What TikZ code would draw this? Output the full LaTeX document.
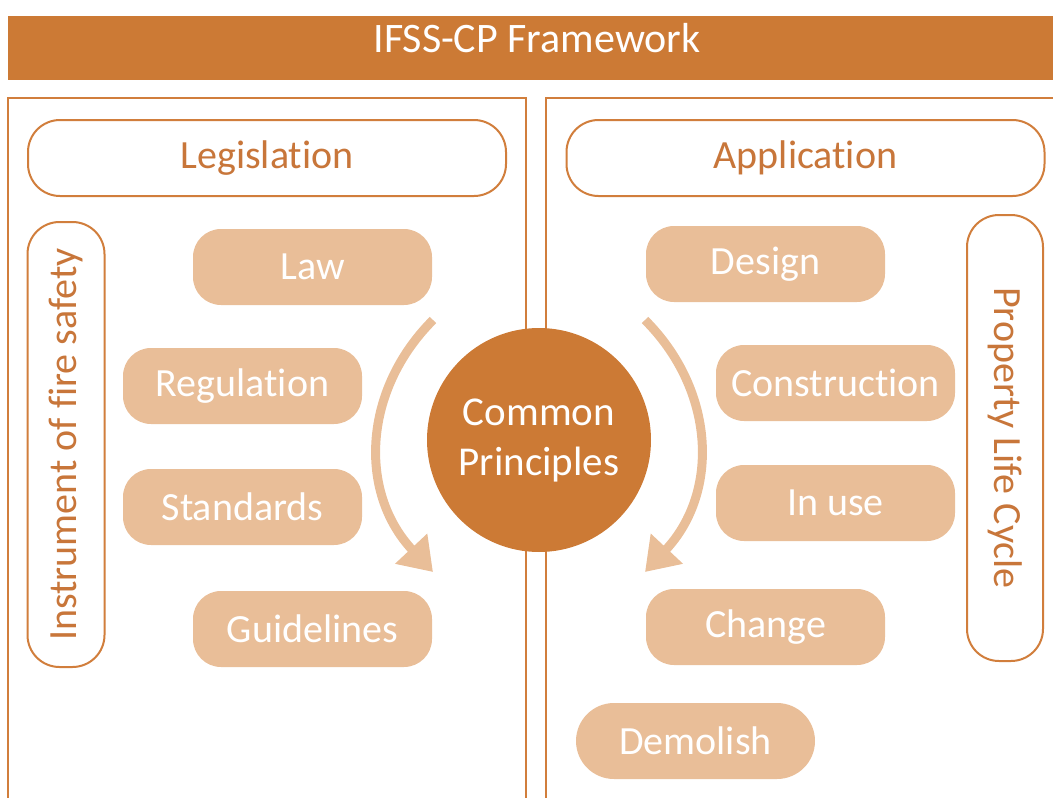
\documentclass[tikz,border=0pt]{standalone}
\usepackage{fontspec}
\setmainfont{Carlito}[Ligatures=NoCommon]
\usetikzlibrary{arrows.meta}
\definecolor{dark}{HTML}{CC7A35}
\definecolor{light}{HTML}{E9BE98}
\definecolor{edge}{HTML}{D17E3C}
\definecolor{txt}{HTML}{C8763A}
\tikzset{
  panel/.style={draw=edge, line width=2pt},
  hdr/.style={draw=edge, line width=2pt, fill=white, rounded corners=32pt, text=txt,
    minimum width=478pt, minimum height=76pt, font=\fontsize{40}{44}\selectfont},
  vbox/.style={draw=edge, line width=2pt, fill=white, rounded corners=32pt, text=txt,
    minimum width=445pt, minimum height=77pt, font=\fontsize{40}{44}\selectfont},
  pill/.style={fill=light, rounded corners=28pt, text=white, inner sep=0pt,
    minimum width=239pt, minimum height=76pt, font=\fontsize{40}{44}\selectfont},
  flow/.style={draw=light, line width=9pt, -{Triangle[length=32pt,width=42pt]}}
}
\begin{document}
\begin{tikzpicture}[x=1pt,y=-1pt]
\useasboundingbox (0,0) rectangle (1053,798);
\clip (0,0) rectangle (1053,798);
% top bar
\fill[dark] (8,16) rectangle (1070,80);
\node[text=white, font=\fontsize{42}{46}\selectfont] (title) at (537,38) {IFSS-CP Framework};
% panels
\draw[panel] (8,98) rectangle (526,830);
\draw[panel] (546,98) rectangle (1080,830);
% headers
\node[hdr] (leg) at (267,158) {Legislation};
\node[hdr] (app) at (805.5,158) {Application};
% vertical boxes
\node[vbox, rotate=90] (inst) at (66,444.5) {Instrument of fire safety};
\node[vbox, rotate=-90, minimum height=76pt, minimum width=446pt] (plc) at (1005,438) {Property Life Cycle};
% left pills
\node[pill] (law) at (312.5,267) {Law};
\node[pill] (reg) at (242.5,386) {Regulation};
\node[pill] (std) at (242.5,507) {Standards};
\node[pill] (gui) at (312.5,629) {Guidelines};
% right pills
\node[pill] (des) at (765.5,264) {Design};
\node[pill] (con) at (835.5,383) {Construction};
\node[pill] (use) at (835.5,503) {In use};
\node[pill] (chg) at (765.5,627) {Change};
\node[pill, rounded corners=38pt] (dem) at (695.5,741) {Demolish};
% centre circle
\node[circle, fill=dark, minimum size=224pt, inner sep=0pt, text=white, align=center,
  font=\fontsize{41}{50}\selectfont] (cp) at (539,440) {Common\\Principles};
% arrows
\coordinate (ls) at (433,320);
\coordinate (le) at (433,572);
\coordinate (rs) at (645,320);
\coordinate (re) at (645,572);
\draw[flow] (ls) .. controls (363,390) and (358,492) .. (le);
\draw[flow] (rs) .. controls (715,390) and (720,492) .. (re);
\end{tikzpicture}
\end{document}
